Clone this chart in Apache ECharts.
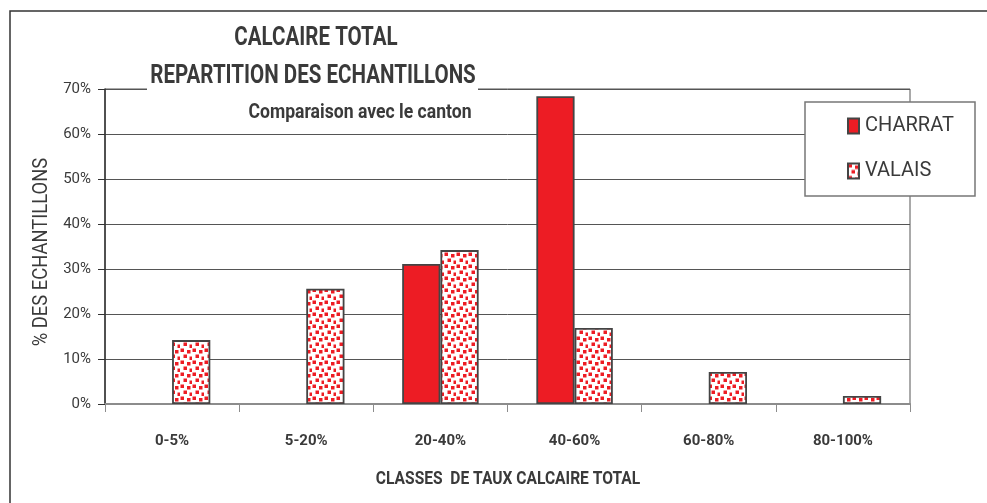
<!DOCTYPE html>
<html>
<head>
<meta charset="utf-8">
<script src="https://cdn.jsdelivr.net/npm/echarts@6/dist/echarts.min.js"></script>
<style>
  html, body { margin: 0; padding: 0; background: #fff; }
  #chart { width: 987px; height: 503px; }
</style>
</head>
<body>
<div id="chart"></div>
<script>
// Classes of total limestone content (x axis)
const classes = ['0-5%', '5-20%', '20-40%', '40-60%', '60-80%', '80-100%'];
// Share of samples per class, in percent
const charrat = [0, 0, 31.1, 68.4, 0, 0];
const valais = [14.2, 25.6, 34.2, 16.9, 7.1, 1.8];
// Y axis scale
const yMin = 0, yMax = 70, yStep = 10;

const FONT = 'Roboto, "Liberation Sans", sans-serif';
const RED = '#ED1C24';
const INK = '#3a3a3a';
const EDGE = '#444';

// Dotted fill: small red squares scattered on white
function dotPattern() {
  const c = document.createElement('canvas');
  c.width = 12; c.height = 12;
  const g = c.getContext('2d');
  g.fillStyle = '#fff';
  g.fillRect(0, 0, 12, 12);
  g.fillStyle = RED;
  [[0.5, 0.5], [7, 2], [3.5, 6.5], [9.5, 8.5]].forEach(([x, y]) => g.fillRect(x, y, 3.5, 3.5));
  return c;
}

// Hide the outline of empty bars
const asBars = values => values.map(v => v === 0 ? { value: v, itemStyle: { borderWidth: 0 } } : v);

// Positioned text helper for the graphic layer
function label(text, x, y, size, weight, scaleX, extra) {
  return Object.assign({
    type: 'text', z: 11, silent: true, x: x, y: y, scaleX: scaleX,
    style: { text: text, x: 0, y: 0, align: 'center', verticalAlign: 'middle',
      textAlign: 'center', textVerticalAlign: 'middle',
      fontFamily: FONT, fontSize: size, fontWeight: weight, fill: INK }
  }, extra || {});
}

const chart = echarts.init(document.getElementById('chart'), null, { renderer: 'canvas' });

chart.setOption({
  animation: false,
  backgroundColor: '#fff',
  grid: { left: 105, right: 77, top: 89, bottom: 99, show: true, borderColor: '#555', borderWidth: 1 },
  legend: {
    orient: 'vertical',
    left: 842,
    top: 111,
    itemWidth: 11,
    itemHeight: 15,
    itemGap: 25,
    icon: 'rect',
    z: 12,
    textStyle: { fontFamily: FONT, fontSize: 20, color: INK, padding: [0, 0, 0, 1] },
    data: ['CHARRAT', 'VALAIS']
  },
  xAxis: {
    type: 'category',
    data: classes,
    axisLine: { lineStyle: { color: '#8c8c8c', width: 2 } },
    axisTick: { show: true, length: 8, lineStyle: { color: '#8c8c8c', width: 1 } },
    axisLabel: { fontFamily: FONT, fontSize: 15, fontWeight: 'bold', color: INK, margin: 30 }
  },
  yAxis: {
    type: 'value',
    min: yMin,
    max: yMax,
    interval: yStep,
    axisLine: { show: true, lineStyle: { color: '#333', width: 1.5 } },
    axisTick: { show: true, length: 7, lineStyle: { color: '#333' } },
    axisLabel: { fontFamily: FONT, fontSize: 15, color: INK, margin: 14, formatter: '{value}%' },
    splitLine: { lineStyle: { color: '#555', width: 1 } }
  },
  series: [
    {
      name: 'CHARRAT',
      type: 'bar',
      data: asBars(charrat),
      barGap: '0%',
      barCategoryGap: '43%',
      itemStyle: { color: RED, borderColor: EDGE, borderWidth: 1.8 }
    },
    {
      name: 'VALAIS',
      type: 'bar',
      data: asBars(valais),
      itemStyle: {
        color: { image: dotPattern(), repeat: 'repeat' },
        borderColor: EDGE,
        borderWidth: 1.8
      }
    }
  ],
  graphic: [
    // outer frame
    { type: 'rect', z: 1, silent: true,
      shape: { x: 10, y: 11, width: 1000, height: 520 },
      style: { fill: null, stroke: '#333', lineWidth: 1.5 } },
    // white panel behind the titles
    { type: 'rect', z: 10, silent: true,
      shape: { x: 147, y: 20, width: 331, height: 112 },
      style: { fill: '#fff' } },
    label('CALCAIRE TOTAL', 316, 38, 26, 'bold', 0.79),
    label('REPARTITION DES ECHANTILLONS', 313, 76, 26, 'bold', 0.79),
    label('Comparaison avec le canton', 360, 113, 20, 'bold', 0.88),
    // legend frame
    { type: 'rect', z: 10, silent: true,
      shape: { x: 805, y: 102, width: 170, height: 94 },
      style: { fill: '#fff', stroke: '#777', lineWidth: 1.5 } },
    // y axis title
    label('% DES ECHANTILLONS', 42, 252, 20, 'normal', 0.92, { rotation: Math.PI / 2 }),
    // x axis title
    label('CLASSES  DE TAUX CALCAIRE TOTAL', 508, 479, 19, 'bold', 0.82)
  ]
});
</script>
</body>
</html>
